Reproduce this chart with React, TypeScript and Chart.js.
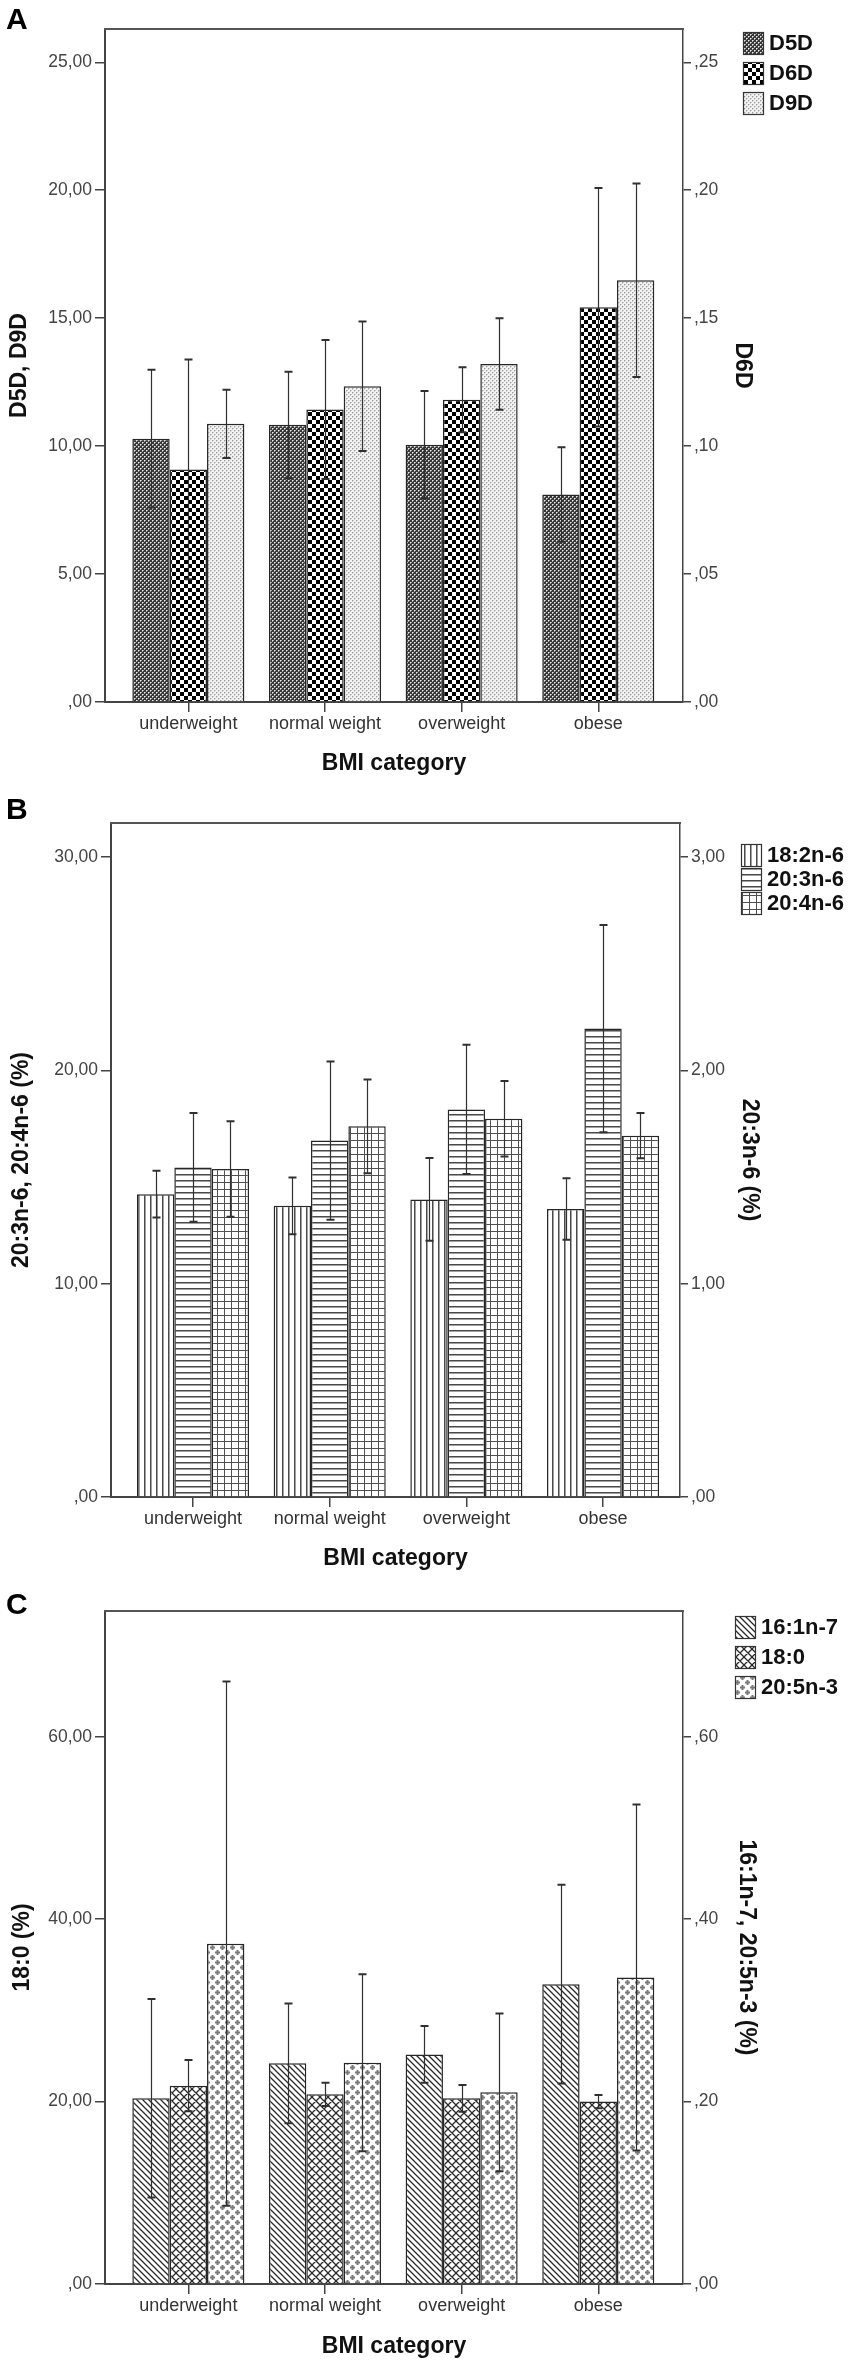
import { useEffect, useRef } from "react";
import { Chart, registerables, type ChartConfiguration, type Plugin } from "chart.js";

Chart.register(...registerables);

const CATEGORIES = ["underweight", "normal weight", "overweight", "obese"];

// A: desaturase indices (D6D on the right axis)
const D5D = [10.29, 10.83, 10.05, 8.11];
const D5D_ERR = [2.69, 2.08, 2.1, 1.85];
const D6D = [0.0909, 0.1143, 0.1181, 0.1543];
const D6D_ERR = [0.0429, 0.0272, 0.0127, 0.0466];
const D9D = [10.87, 12.34, 13.21, 16.48];
const D9D_ERR = [1.33, 2.53, 1.79, 3.78];
const A_LEFT_TICKS = [0, 5, 10, 15, 20, 25];
const A_RIGHT_TICKS = [0, 0.05, 0.1, 0.15, 0.2, 0.25];

// B: n-6 fatty acids (20:3n-6 on the right axis)
const FA_18_2N6 = [14.2, 13.65, 13.95, 13.5];
const FA_18_2N6_ERR = [1.1, 1.33, 1.94, 1.44];
const FA_20_3N6 = [1.545, 1.671, 1.817, 2.196];
const FA_20_3N6_ERR = [0.255, 0.371, 0.303, 0.486];
const FA_20_4N6 = [15.38, 17.38, 17.73, 16.94];
const FA_20_4N6_ERR = [2.24, 2.2, 1.77, 1.06];
const B_LEFT_TICKS = [0, 10, 20, 30];
const B_RIGHT_TICKS = [0, 1, 2, 3];

// C: 16:1n-7 and 20:5n-3 on the right axis, 18:0 on the left
const FA_16_1N7 = [0.2036, 0.242, 0.2518, 0.3288];
const FA_16_1N7_ERR = [0.1088, 0.0657, 0.0312, 0.109];
const FA_18_0 = [21.75, 20.8, 20.36, 20.0];
const FA_18_0_ERR = [2.81, 1.28, 1.46, 0.73];
const FA_20_5N3 = [0.3732, 0.2427, 0.2102, 0.3361];
const FA_20_5N3_ERR = [0.2874, 0.0971, 0.0865, 0.1898];
const C_LEFT_TICKS = [0, 20, 40, 60];
const C_RIGHT_TICKS = [0, 0.2, 0.4, 0.6];

const FONT = "'Liberation Sans', Arial, sans-serif";

// SPSS style numbers: 25,00  ,05  ,00
function fmt(v: number) {
  const s = v.toFixed(2).replace(".", ",");
  return s.startsWith("0,") ? s.slice(1) : s;
}

function tile(w: number, h: number, draw: (g: CanvasRenderingContext2D) => void) {
  const c = document.createElement("canvas");
  c.width = w;
  c.height = h;
  const g = c.getContext("2d")!;
  g.fillStyle = "#ffffff";
  g.fillRect(0, 0, w, h);
  draw(g);
  return g.createPattern(c, "repeat")!;
}

function px(g: CanvasRenderingContext2D, color: string, pts: number[][]) {
  g.fillStyle = color;
  pts.forEach(([x, y]) => g.fillRect(x, y, 1, 1));
}

function lines(g: CanvasRenderingContext2D, segs: number[][], width = 1.3) {
  g.strokeStyle = "#2a2a2a";
  g.lineWidth = width;
  g.beginPath();
  segs.forEach(([x1, y1, x2, y2]) => {
    g.moveTo(x1, y1);
    g.lineTo(x2, y2);
  });
  g.stroke();
}

const PATTERNS: Record<string, () => CanvasPattern> = {
  fineDots: () =>
    tile(4, 4, (g) => {
      g.fillStyle = "#383838";
      g.fillRect(0, 0, 4, 4);
      px(g, "#a0a0a0", [[1, 0], [0, 1], [3, 2], [2, 3]]);
      px(g, "#eeeeee", [[0, 0], [2, 2]]);
    }),
  checker: () =>
    tile(8, 8, (g) => {
      g.fillStyle = "#000000";
      g.fillRect(0, 0, 4, 4);
      g.fillRect(4, 4, 4, 4);
    }),
  lightDots: () =>
    tile(4, 4, (g) => {
      g.fillStyle = "#f2f2f2";
      g.fillRect(0, 0, 4, 4);
      px(g, "#cfcfcf", [[1, 0], [0, 1], [3, 2], [2, 3]]);
      px(g, "#9c9c9c", [[0, 0], [2, 2]]);
    }),
  vStripes: () =>
    tile(6, 1, (g) => {
      px(g, "#4a4a4a", [[0, 0]]);
      px(g, "#a0a0a0", [[1, 0]]);
    }),
  hStripes: () =>
    tile(1, 6, (g) => {
      px(g, "#4a4a4a", [[0, 0]]);
      px(g, "#a0a0a0", [[0, 1]]);
    }),
  grid: () =>
    tile(7, 7, (g) => {
      g.fillStyle = "#505050";
      g.fillRect(0, 0, 7, 1);
      g.fillRect(0, 0, 1, 7);
    }),
  diagonal: () =>
    tile(6, 6, (g) => lines(g, [[-1, -1, 7, 7], [-1, 5, 1, 7], [5, -1, 7, 1]])),
  crosshatch: () =>
    tile(8, 8, (g) =>
      lines(g, [
        [-1, -1, 9, 9],
        [-1, 7, 1, 9],
        [7, -1, 9, 1],
        [-1, 9, 9, -1],
        [-1, 1, 1, -1],
        [7, 9, 9, 7],
      ])
    ),
  plus: () =>
    tile(10, 10, (g) => {
      g.fillStyle = "#7a7a7a";
      [[2.5, 2.5], [7.5, 7.5]].forEach(([cx, cy]) => {
        g.fillRect(cx - 2.5, cy - 1, 5, 2);
        g.fillRect(cx - 1, cy - 2.5, 2, 5);
      });
    }),
};

type Series = {
  label: string;
  values: number[];
  errors: number[];
  axis: "y" | "y2";
  pattern: string;
};

type Panel = {
  letter: string;
  top: number;
  height: number;
  series: Series[];
  leftTicks: number[];
  rightTicks: number[];
  leftMax: number;
  rightMax: number;
  leftTitle: string;
  rightTitle: string;
  xMin: number;
  xMax: number;
  plotTop: number;
  leftWidth: number;
  rightPad: number;
  xAxisHeight: number;
  xTitlePad: number;
  leftTitlePad: number;
  rightTitlePad: number;
  legendX: number;
  legendY: number[];
};

const PANELS: Panel[] = [
  {
    letter: "A",
    top: 0,
    height: 790,
    series: [
      { label: "D5D", values: D5D, errors: D5D_ERR, axis: "y", pattern: "fineDots" },
      { label: "D6D", values: D6D, errors: D6D_ERR, axis: "y2", pattern: "checker" },
      { label: "D9D", values: D9D, errors: D9D_ERR, axis: "y", pattern: "lightDots" },
    ],
    leftTicks: A_LEFT_TICKS,
    rightTicks: A_RIGHT_TICKS,
    leftMax: 26.3,
    rightMax: 0.263,
    leftTitle: "D5D, D9D",
    rightTitle: "D6D",
    xMin: -0.61,
    xMax: 3.62,
    plotTop: 29,
    leftWidth: 105,
    rightPad: 85,
    xAxisHeight: 88,
    xTitlePad: 13,
    leftTitlePad: 6,
    rightTitlePad: 12,
    legendX: 743,
    legendY: [43, 73, 103],
  },
  {
    letter: "B",
    top: 790,
    height: 795,
    series: [
      { label: "18:2n-6", values: FA_18_2N6, errors: FA_18_2N6_ERR, axis: "y", pattern: "vStripes" },
      { label: "20:3n-6", values: FA_20_3N6, errors: FA_20_3N6_ERR, axis: "y2", pattern: "hStripes" },
      { label: "20:4n-6", values: FA_20_4N6, errors: FA_20_4N6_ERR, axis: "y", pattern: "grid" },
    ],
    leftTicks: B_LEFT_TICKS,
    rightTicks: B_RIGHT_TICKS,
    leftMax: 31.6,
    rightMax: 3.16,
    leftTitle: "20:3n-6, 20:4n-6 (%)",
    rightTitle: "20:3n-6 (%)",
    xMin: -0.6,
    xMax: 3.563,
    plotTop: 33,
    leftWidth: 111,
    rightPad: 88,
    xAxisHeight: 88,
    xTitlePad: 13,
    leftTitlePad: 8,
    rightTitlePad: 2,
    legendX: 741,
    legendY: [65, 89, 113],
  },
  {
    letter: "C",
    top: 1585,
    height: 783,
    series: [
      { label: "16:1n-7", values: FA_16_1N7, errors: FA_16_1N7_ERR, axis: "y2", pattern: "diagonal" },
      { label: "18:0", values: FA_18_0, errors: FA_18_0_ERR, axis: "y", pattern: "crosshatch" },
      { label: "20:5n-3", values: FA_20_5N3, errors: FA_20_5N3_ERR, axis: "y2", pattern: "plus" },
    ],
    leftTicks: C_LEFT_TICKS,
    rightTicks: C_RIGHT_TICKS,
    leftMax: 73.8,
    rightMax: 0.738,
    leftTitle: "18:0 (%)",
    rightTitle: "16:1n-7, 20:5n-3 (%)",
    xMin: -0.61,
    xMax: 3.62,
    plotTop: 26,
    leftWidth: 105,
    rightPad: 85,
    xAxisHeight: 84,
    xTitlePad: 8,
    leftTitlePad: 9,
    rightTitlePad: 8,
    legendX: 735,
    legendY: [42, 72, 102],
  },
];

// whiskers: mean ± error, on each dataset's own y axis
const errorBars: Plugin<"bar"> = {
  id: "errorBars",
  afterDatasetsDraw(chart) {
    const { ctx } = chart;
    ctx.save();
    ctx.strokeStyle = "#303030";
    chart.data.datasets.forEach((ds: any, i) => {
      const meta = chart.getDatasetMeta(i);
      const scale = chart.scales[meta.yAxisID as string];
      meta.data.forEach((bar, j) => {
        const v = ds.data[j].y;
        const e = ds.errors[j];
        const top = scale.getPixelForValue(v + e);
        const bot = scale.getPixelForValue(v - e);
        const x = Math.round(bar.x) + 0.5;
        ctx.lineWidth = 1.2;
        ctx.beginPath();
        ctx.moveTo(x, top);
        ctx.lineTo(x, bot);
        ctx.stroke();
        ctx.lineWidth = 2;
        ctx.beginPath();
        ctx.moveTo(x - 4, top);
        ctx.lineTo(x + 4, top);
        ctx.moveTo(x - 4, bot);
        ctx.lineTo(x + 4, bot);
        ctx.stroke();
      });
    });
    ctx.restore();
  },
};

// top edge of the plot frame
const frameTop: Plugin<"bar"> = {
  id: "frameTop",
  afterDraw(chart) {
    const { ctx, chartArea } = chart;
    ctx.save();
    ctx.strokeStyle = "#555";
    ctx.lineWidth = 2;
    ctx.beginPath();
    ctx.moveTo(chartArea.left - 1, chartArea.top);
    ctx.lineTo(chartArea.right + 1, chartArea.top);
    ctx.stroke();
    ctx.restore();
  },
};

// legend with pattern swatches, outside the frame at top right
const patternLegend: Plugin<"bar"> = {
  id: "patternLegend",
  afterDraw(chart, _args, opts: any) {
    const { ctx } = chart;
    ctx.save();
    ctx.font = `bold 22px ${FONT}`;
    ctx.textBaseline = "middle";
    ctx.textAlign = "left";
    chart.data.datasets.forEach((ds: any, i) => {
      const y = opts.y[i];
      ctx.fillStyle = ds.backgroundColor;
      ctx.fillRect(opts.x, y - 11, 20, 22);
      ctx.strokeStyle = "#333";
      ctx.lineWidth = 1.2;
      ctx.strokeRect(opts.x + 0.5, y - 10.5, 20, 22);
      ctx.fillStyle = "#111";
      ctx.fillText(ds.label, opts.x + 26, y + 1);
    });
    ctx.restore();
  },
};

function buildConfig(p: Panel): ChartConfiguration<"bar"> {
  const axisGrid = { drawOnChartArea: false, tickLength: 10, color: "#444", lineWidth: 1.5, offset: false };
  const tickFont = { family: FONT, size: 17.5 };
  const titleFont = { family: FONT, size: 23, weight: "bold" as const };
  return {
    type: "bar",
    data: {
      datasets: p.series.map((s) => ({
        label: s.label,
        data: s.values.map((v, j) => ({ x: j, y: v })) as any,
        errors: s.errors,
        yAxisID: s.axis,
        backgroundColor: PATTERNS[s.pattern](),
        borderColor: "#262626",
        borderWidth: 1.5,
        categoryPercentage: 0.82,
        barPercentage: 1,
      })),
    },
    options: {
      responsive: false,
      animation: false,
      devicePixelRatio: 1,
      layout: { padding: { top: p.plotTop, left: 0, right: p.rightPad, bottom: 0 } },
      plugins: {
        legend: { display: false },
        tooltip: { enabled: false },
        patternLegend: { x: p.legendX, y: p.legendY },
      } as any,
      scales: {
        x: {
          type: "linear",
          min: p.xMin,
          max: p.xMax,
          offset: false,
          afterBuildTicks: (s) => {
            s.ticks = CATEGORIES.map((_, i) => ({ value: i }));
          },
          afterFit: (s) => {
            s.height = p.xAxisHeight;
          },
          ticks: {
            callback: (v) => CATEGORIES[v as number],
            font: { family: FONT, size: 18 },
            color: "#333",
            padding: 1,
            maxRotation: 0,
            autoSkip: false,
          },
          grid: axisGrid,
          border: { color: "#444", width: 2 },
          title: {
            display: true,
            text: "BMI category",
            font: { family: FONT, size: 23, weight: "bold" },
            color: "#111",
            padding: { top: 0, bottom: p.xTitlePad },
          },
        },
        y: {
          type: "linear",
          position: "left",
          min: 0,
          max: p.leftMax,
          afterBuildTicks: (s) => {
            s.ticks = p.leftTicks.map((v) => ({ value: v }));
          },
          afterFit: (s) => {
            s.width = p.leftWidth;
          },
          ticks: { callback: (v) => fmt(v as number), font: tickFont, color: "#444", padding: 3 },
          grid: axisGrid,
          border: { color: "#444", width: 2 },
          title: {
            display: true,
            text: p.leftTitle,
            font: titleFont,
            color: "#111",
            padding: { top: p.leftTitlePad, bottom: 0 },
          },
        },
        y2: {
          type: "linear",
          position: "right",
          min: 0,
          max: p.rightMax,
          afterBuildTicks: (s) => {
            s.ticks = p.rightTicks.map((v) => ({ value: v }));
          },
          afterFit: (s) => {
            s.width = 85;
          },
          ticks: { callback: (v) => fmt(v as number), font: tickFont, color: "#444", padding: 3 },
          grid: { ...axisGrid, tickLength: 8 },
          border: { color: "#444", width: 1.5 },
          title: {
            display: true,
            text: p.rightTitle,
            font: titleFont,
            color: "#111",
            padding: { top: p.rightTitlePad, bottom: 0 },
          },
        },
      },
    },
    plugins: [errorBars, frameTop, patternLegend],
  };
}

function PanelChart({ panel }: { panel: Panel }) {
  const canvasRef = useRef<HTMLCanvasElement>(null);

  useEffect(() => {
    const canvas = canvasRef.current;
    if (!canvas) return;
    const chart = new Chart(canvas, buildConfig(panel));
    return () => chart.destroy();
  }, [panel]);

  return (
    <div style={{ position: "absolute", left: 0, top: panel.top, width: 853, height: panel.height }}>
      <canvas ref={canvasRef} width={853} height={panel.height} style={{ display: "block" }} />
      <div
        style={{
          position: "absolute",
          left: 6,
          top: 4,
          font: `bold 30px ${FONT}`,
          lineHeight: 1,
          color: "#000",
        }}
      >
        {panel.letter}
      </div>
    </div>
  );
}

export default function App() {
  useEffect(() => {
    document.body.style.margin = "0";
  }, []);

  return (
    <div style={{ position: "relative", width: 853, height: 2368, background: "#fff" }}>
      {PANELS.map((p) => (
        <PanelChart key={p.letter} panel={p} />
      ))}
    </div>
  );
}
